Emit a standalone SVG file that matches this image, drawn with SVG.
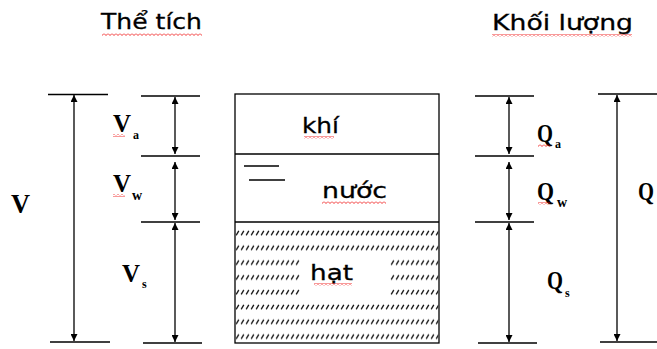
<svg xmlns="http://www.w3.org/2000/svg" width="657" height="349" viewBox="0 0 657 349">
<style>
.ln{stroke:#000;stroke-width:1.3;fill:none}
.ar{stroke:#000;stroke-width:1.3;fill:none;marker-start:url(#ah);marker-end:url(#ah)}
.sans{font-family:"DejaVu Sans","Liberation Sans",sans-serif;fill:#000;stroke:#000;stroke-width:0.3}
.ser{font-family:"Liberation Serif","Times New Roman",serif;font-weight:bold;fill:#000}
.sq{fill:url(#squig)}
</style>
<defs>
<marker id="ah" viewBox="0 0 10 10" refX="10" refY="5" markerWidth="9" markerHeight="7" markerUnits="userSpaceOnUse" orient="auto-start-reverse">
<path d="M0,0 L10,5 L0,10 Z" fill="#000"/>
</marker>
<pattern id="hatch" patternUnits="userSpaceOnUse" x="235" y="226" width="5" height="14.8">
<path d="M1.2,9.2 L3.8,4.8" stroke="#111" stroke-width="1.3"/>
</pattern>
<pattern id="squig" patternUnits="userSpaceOnUse" width="4" height="3">
<path d="M0,0.5 L2,2.5 L4,0.5" stroke="#e00" stroke-width="0.8" fill="none"/>
</pattern>
</defs>

<g id="titles">
<text class="sans" x="101" y="29" font-size="22" textLength="101" lengthAdjust="spacingAndGlyphs">Thể tích</text>
<text class="sans" x="492" y="30" font-size="22" textLength="141" lengthAdjust="spacingAndGlyphs">Khối lượng</text>
</g>

<g id="column-box">
<rect x="235" y="94" width="204" height="249" fill="#fff" class="ln"/>
<rect x="235.7" y="222.7" width="202.6" height="119.6" fill="url(#hatch)"/>
<rect x="300" y="253" width="90" height="44" fill="#fff"/>
<line class="ln" x1="235" y1="154" x2="439" y2="154"/>
<line class="ln" x1="235" y1="222" x2="439" y2="222"/>
<line class="ln" x1="244" y1="166" x2="279" y2="166"/>
<line class="ln" x1="249" y1="180" x2="285" y2="180"/>
<text class="sans" x="302" y="133" font-size="22" textLength="37" lengthAdjust="spacingAndGlyphs">khí</text>
<text class="sans" x="322" y="198" font-size="22" textLength="65" lengthAdjust="spacingAndGlyphs">nước</text>
<text class="sans" x="310" y="280" font-size="22" textLength="43" lengthAdjust="spacingAndGlyphs">hạt</text>
</g>

<g id="connectors">
<line class="ln" x1="48" y1="94.5" x2="108" y2="94.5"/>
<line class="ln" x1="50" y1="342" x2="110" y2="342"/>
<line class="ar" x1="74" y1="95" x2="74" y2="341"/>
<line class="ln" x1="141" y1="96" x2="200" y2="96"/>
<line class="ln" x1="141" y1="156" x2="200" y2="156"/>
<line class="ln" x1="141" y1="222" x2="200" y2="222"/>
<line class="ln" x1="143" y1="343" x2="202" y2="343"/>
<line class="ar" x1="175" y1="97" x2="175" y2="154"/>
<line class="ar" x1="175" y1="162" x2="175" y2="220"/>
<line class="ar" x1="175" y1="223" x2="175" y2="342"/>
<line class="ln" x1="475" y1="96" x2="534" y2="96"/>
<line class="ln" x1="475" y1="156" x2="534" y2="156"/>
<line class="ln" x1="475" y1="222" x2="534" y2="222"/>
<line class="ln" x1="478" y1="343" x2="537" y2="343"/>
<line class="ar" x1="509" y1="97" x2="509" y2="154"/>
<line class="ar" x1="509" y1="162" x2="509" y2="220"/>
<line class="ar" x1="509" y1="223" x2="509" y2="342"/>
<line class="ln" x1="598" y1="94" x2="657" y2="94"/>
<line class="ln" x1="600" y1="342" x2="657" y2="342"/>
<line class="ar" x1="617" y1="95" x2="617" y2="341"/>
</g>

<g id="labels">
<text class="ser" x="11" y="213" font-size="27" textLength="19" lengthAdjust="spacingAndGlyphs">V</text>
<text class="ser" x="113" y="132" font-size="26" textLength="18" lengthAdjust="spacingAndGlyphs">V</text>
<text class="ser" x="133" y="139" font-size="12">a</text>
<text class="ser" x="113" y="192" font-size="26" textLength="18" lengthAdjust="spacingAndGlyphs">V</text>
<text class="ser" x="132" y="200" font-size="14">w</text>
<text class="ser" x="122" y="282" font-size="26" textLength="18" lengthAdjust="spacingAndGlyphs">V</text>
<text class="ser" x="142" y="288" font-size="12">s</text>
<text class="ser" x="537" y="142" font-size="25" textLength="16" lengthAdjust="spacingAndGlyphs">Q</text>
<text class="ser" x="555" y="148" font-size="12">a</text>
<text class="ser" x="537" y="200" font-size="25" textLength="17" lengthAdjust="spacingAndGlyphs">Q</text>
<text class="ser" x="557" y="207" font-size="14">w</text>
<text class="ser" x="547" y="289" font-size="25" textLength="16" lengthAdjust="spacingAndGlyphs">Q</text>
<text class="ser" x="565" y="297" font-size="12">s</text>
<text class="ser" x="638" y="200" font-size="25" textLength="16" lengthAdjust="spacingAndGlyphs">Q</text>
</g>

<g id="spellcheck">
<rect class="sq" x="102" y="33" width="100" height="3"/>
<rect class="sq" x="492" y="34" width="140" height="3"/>
<rect class="sq" x="304" y="136" width="30" height="3"/>
<rect class="sq" x="322" y="201" width="64" height="3"/>
<rect class="sq" x="314" y="283" width="38" height="3"/>
<rect class="sq" x="113" y="134" width="12" height="3"/>
<rect class="sq" x="113" y="194" width="12" height="3"/>
<rect class="sq" x="538" y="144" width="12" height="3"/>
<rect class="sq" x="538" y="202" width="12" height="3"/>
</g>
</svg>
